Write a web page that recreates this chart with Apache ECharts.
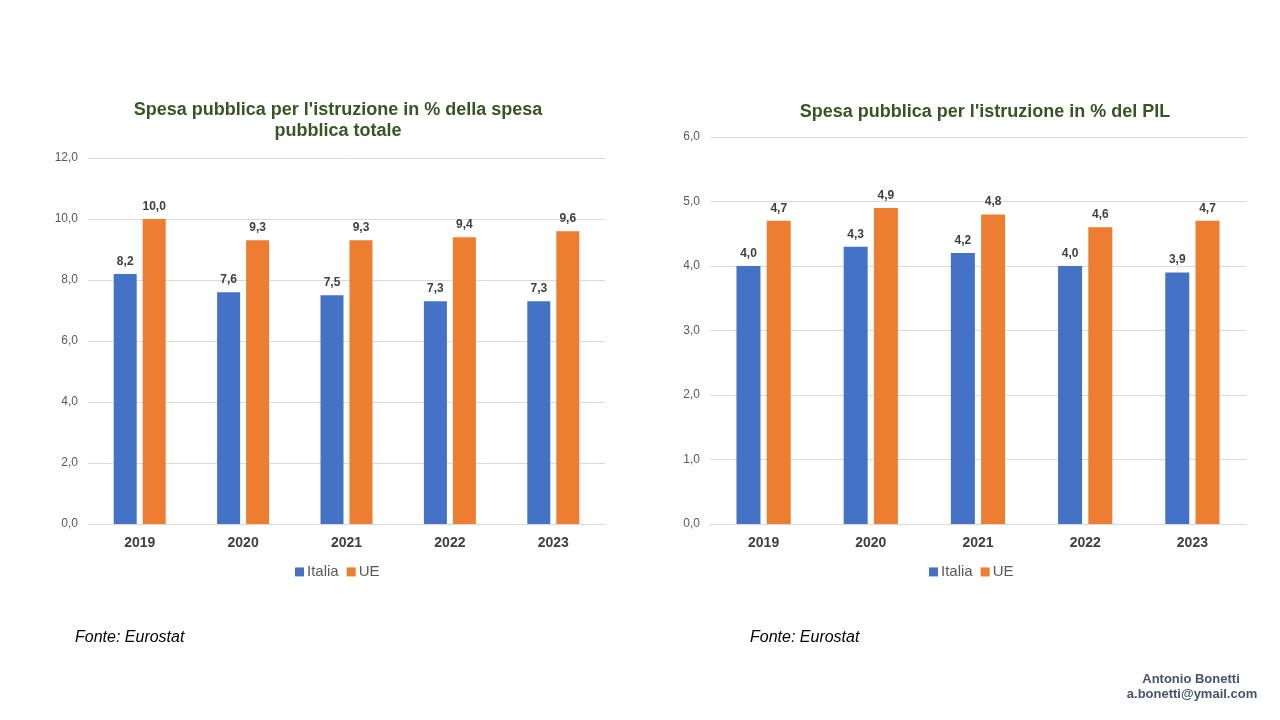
<!DOCTYPE html>
<html>
<head>
    <title>Spesa pubblica per l'istruzione</title>
    <script src="https://cdn.jsdelivr.net/npm/echarts@6/dist/echarts.min.js"></script>
</head>
<body style="margin:0;background:#fff;">
    <div id="myChart" style="width: 1280px;height:720px;"></div>
    <script>
        var years = ['2019', '2020', '2021', '2022', '2023'];
        // % della spesa pubblica totale
        var italiaSpesa = [8.2, 7.6, 7.5, 7.3, 7.3];
        var ueSpesa = [10.0, 9.3, 9.3, 9.4, 9.6];
        // % del PIL
        var italiaPil = [4.0, 4.3, 4.2, 4.0, 3.9];
        var uePil = [4.7, 4.9, 4.8, 4.6, 4.7];

        var myChart = echarts.init(document.getElementById('myChart'));

        function fmt(v) {
            return Number(v).toFixed(1).replace('.', ',');
        }

        var font = 'Liberation Sans, Arial, sans-serif';
        var blu = '#4472c4';
        var arancio = '#ed7d31';

        function xAx(idx) {
            return {
                type: 'category',
                gridIndex: idx,
                data: years,
                axisTick: { show: false },
                axisLine: { lineStyle: { color: '#d9d9d9' } },
                axisLabel: { color: '#404040', fontWeight: 'bold', fontSize: 14, fontFamily: font, margin: 7 }
            };
        }
        function yAx(idx, max, step) {
            return {
                type: 'value',
                gridIndex: idx,
                min: 0,
                max: max,
                interval: step,
                axisLabel: { color: '#595959', fontSize: 12, fontFamily: font, formatter: fmt, margin: 10 },
                splitLine: { lineStyle: { color: '#d9d9d9' } }
            };
        }
        function barSerie(name, data, idx, color, w) {
            return {
                name: name,
                type: 'bar',
                xAxisIndex: idx,
                yAxisIndex: idx,
                data: data,
                barWidth: w,
                barGap: '26%',
                itemStyle: { color: color },
                label: {
                    show: true,
                    position: 'top',
                    distance: 2,
                    color: '#404040',
                    fontWeight: 'bold',
                    fontSize: 12,
                    fontFamily: font,
                    formatter: function (p) { return fmt(p.value); }
                }
            };
        }

        var legendStyle = { color: '#595959', fontSize: 15, fontFamily: font, padding: [0, 0, 0, -2] };

        var option = {
            animation: false,
            title: [{
                text: "Spesa pubblica per l'istruzione in % della spesa\npubblica totale",
                left: 333,
                top: 95,
                textAlign: 'center',
                textStyle: { color: '#375623', fontSize: 18, fontWeight: 'bold', fontFamily: font, lineHeight: 21 }
            }, {
                text: "Spesa pubblica per l'istruzione in % del PIL",
                left: 980,
                top: 92,
                textAlign: 'center',
                textStyle: { color: '#375623', fontSize: 18, fontWeight: 'bold', fontFamily: font }
            }],
            legend: [{
                data: ['Italia', 'UE'],
                left: 290,
                top: 554,
                itemWidth: 9,
                itemHeight: 9,
                itemGap: 8,
                icon: 'rect',
                textStyle: legendStyle
            }, {
                data: ['Italia', 'UE'],
                left: 924,
                top: 554,
                itemWidth: 9,
                itemHeight: 9,
                itemGap: 8,
                icon: 'rect',
                textStyle: legendStyle
            }],
            grid: [
                { left: 88, top: 158, width: 517, height: 366 },
                { left: 710, top: 137, width: 536, height: 387 }
            ],
            xAxis: [xAx(0), xAx(1)],
            yAxis: [yAx(0, 12, 2), yAx(1, 6, 1)],
            series: [
                barSerie('Italia', italiaSpesa, 0, blu, 23),
                barSerie('UE', ueSpesa, 0, arancio, 23),
                barSerie('Italia', italiaPil, 1, blu, 24),
                barSerie('UE', uePil, 1, arancio, 24)
            ],
            graphic: [{
                type: 'text',
                left: 75,
                top: 624,
                style: { text: 'Fonte: Eurostat', fill: '#000', font: 'italic 16px ' + font }
            }, {
                type: 'text',
                left: 750,
                top: 624,
                style: { text: 'Fonte: Eurostat', fill: '#000', font: 'italic 16px ' + font }
            }, {
                type: 'text',
                x: 1191,
                y: 679,
                style: {
                    text: 'Antonio Bonetti',
                    fill: '#44546a',
                    font: 'bold 13px ' + font,
                    align: 'center',
                    verticalAlign: 'middle'
                }
            }, {
                type: 'text',
                x: 1192,
                y: 694,
                style: {
                    text: 'a.bonetti@ymail.com',
                    fill: '#44546a',
                    font: 'bold 13px ' + font,
                    align: 'center',
                    verticalAlign: 'middle'
                }
            }]
        };
        myChart.setOption(option);
    </script>
</body>
</html>
